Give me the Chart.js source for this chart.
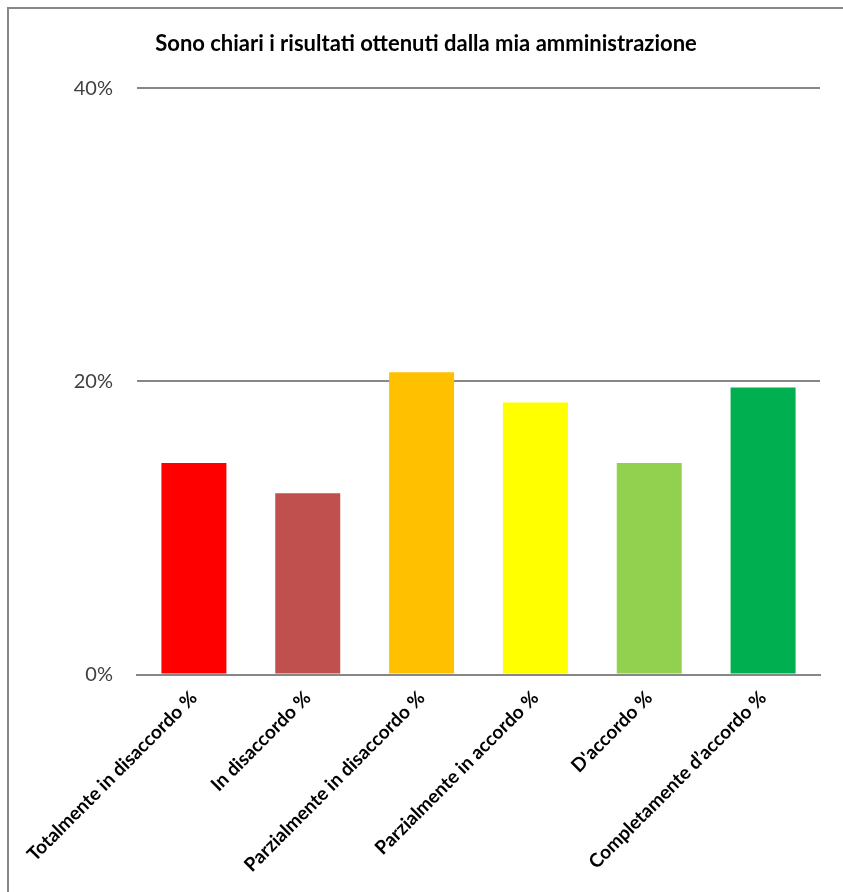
<!DOCTYPE html>
<html lang="it">
<head>
  <meta charset="UTF-8" />
  <title>Sono chiari i risultati ottenuti dalla mia amministrazione</title>
  <script src="https://cdn.jsdelivr.net/npm/chart.js"></script>
  <style>
    html, body {
      margin: 0;
      padding: 0;
      width: 843px;
      height: 892px;
      overflow: hidden;
      background: #ffffff;
    }
    .frame {
      position: absolute;
      left: 7px;
      top: 7px;
      width: 836px;
      height: 885px;
      border-left: 2px solid #878787;
      border-top: 2px solid #878787;
    }
    .frame canvas {
      display: block;
    }
  </style>
</head>
<body>
  <div class="frame">
    <canvas id="barChart" width="834" height="883"></canvas>
  </div>

  <script>
    const chartTitle = "Sono chiari i risultati ottenuti dalla mia amministrazione";
    const categories = [
      "Totalmente in disaccordo %",
      "In disaccordo %",
      "Parzialmente in disaccordo %",
      "Parzialmente in accordo %",
      "D'accordo %",
      "Completamente d\u2019accordo %"
    ];
    const percentages = [14.43, 12.37, 20.62, 18.56, 14.43, 19.59];
    const barColors = ["#FF0000", "#C0504D", "#FFC000", "#FFFF00", "#92D050", "#00B050"];
    const yTicks = [0, 20, 40];

    const labelFont = "Lato, 'Liberation Sans', sans-serif";

    new Chart(document.getElementById("barChart"), {
      type: "bar",
      data: {
        labels: categories,
        datasets: [{
          data: percentages,
          backgroundColor: barColors,
          borderWidth: 0,
          categoryPercentage: 1,
          barPercentage: 0.571
        }]
      },
      options: {
        responsive: false,
        animation: false,
        layout: { padding: 0 },
        plugins: {
          legend: { display: false },
          tooltip: { enabled: false },
          title: {
            display: true,
            text: chartTitle,
            color: "#000000",
            font: { family: labelFont, size: 22, weight: "bold", lineHeight: 1.2 },
            padding: { top: 22, bottom: 31 }
          }
        },
        scales: {
          x: {
            grid: { display: false, drawTicks: false },
            border: { display: true, color: "#878787", width: 2 },
            ticks: {
              color: "#000000",
              maxRotation: 45,
              minRotation: 45,
              autoSkip: false,
              padding: 12,
              font: { family: labelFont, size: 19, weight: "bold" }
            },
            afterFit: (scale) => {
              scale.height = 217.5;
              scale.paddingLeft = 0;
              scale.paddingRight = 23;
            }
          },
          y: {
            min: 0,
            max: 40,
            border: { display: false },
            grid: { color: "#878787", lineWidth: 2, drawTicks: false },
            afterBuildTicks: (scale) => {
              scale.ticks = yTicks.map(v => ({ value: v }));
            },
            ticks: {
              color: "#404040",
              padding: 24,
              font: { family: labelFont, size: 20 },
              callback: (v) => v + "%"
            },
            afterFit: (scale) => { scale.width = 128; }
          }
        }
      }
    });
  </script>
</body>
</html>
